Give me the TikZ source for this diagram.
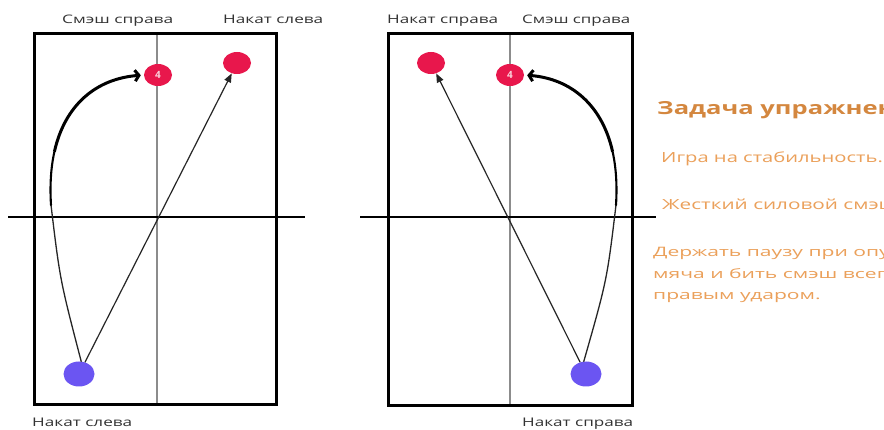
\documentclass[tikz,border=0pt]{standalone}
\usepackage{fontspec}
\usepackage{graphicx}
\setmainfont{Open Sans}
\usetikzlibrary{arrows.meta,shapes.geometric}
\definecolor{ballred}{HTML}{E8174C}
\definecolor{ballblue}{HTML}{6B55F2}
\definecolor{orangetxt}{HTML}{EBA05A}
\definecolor{orangehd}{HTML}{D4873F}
\tikzset{
  frame/.style={line width=3pt},
  midline/.style={line width=1.4pt, draw=black!45},
  netline/.style={line width=2.4pt},
  ball/.style={ellipse, inner sep=0pt, minimum width=28pt, minimum height=22pt},
  redball/.style={ball, fill=ballred},
  blueball/.style={ball, fill=ballblue, minimum width=31pt, minimum height=25pt},
  lbl/.style={anchor=base west, inner sep=0pt, text=black!80},
  otxt/.style={anchor=base west, inner sep=0pt, text=orangetxt},
  thinarrow/.style={line width=1.2pt, draw=black!85, -{Triangle[length=9pt,width=7pt]}},
  thinpart/.style={line width=1.3pt, draw=black!85, line cap=round},
  midpart/.style={line width=2.1pt, line cap=round},
  curvearrow/.style={line width=3pt, shorten >=3pt, -{Straight Barb[length=4pt,width=11pt]}},
}
\newcommand{\balltext}{\fontsize{10}{10}\selectfont\bfseries\textcolor{white!80!ballred}{4}}
\begin{document}
\begin{tikzpicture}[x=1pt,y=-1pt]
\useasboundingbox (0,0) rectangle (884,430);
\clip (0,0) rectangle (884,430);
\fill[white] (0,0) rectangle (884,430);

% ---------- left court ----------
\draw[midline] (157,33.5) -- (157,404.5);
\draw[netline] (8,217) -- (305,217);
\draw[frame] (34.5,33.5) rectangle (276.5,404.5);

\node[redball] (L4) at (158,75) {\balltext};
\node[redball] (LR) at (237,63) {};
\node[blueball] (LB) at (79,374) {};

\coordinate (Lmid) at (51,205);
\coordinate (Ls) at (54.42,151.64);
\draw[thinarrow] (LB) -- (LR);
\draw[thinpart] (LB.80) .. controls (60,280) .. (Lmid);
\draw[midpart] (Lmid) .. controls (49.75,185) and (50.94,167.19) .. (Ls);
\draw[curvearrow] (Ls) .. controls (64.875,105) and (96,78.75) .. (L4.west);

\node[lbl] (lt1) at (62,24) {\resizebox{111pt}{8.5pt}{Смэш справа}};
\node[lbl] (lt2) at (223,24) {\resizebox{100pt}{8.5pt}{Накат слева}};
\node[lbl] (lb1) at (32,426) {\resizebox{100pt}{8.5pt}{Накат слева}};

% ---------- right court ----------
\draw[midline] (510,33.5) -- (510,405.5);
\draw[netline] (360,217) -- (656,217);
\draw[frame] (388,33.5) rectangle (632,405.5);

\node[redball] (R4) at (510,75) {\balltext};
\node[redball] (RR) at (431,63) {};
\node[blueball] (RB) at (586,374) {};

\coordinate (Rmid) at (616,205);
\coordinate (Rs) at (612.58,151.64);
\draw[thinarrow] (RB) -- (RR);
\draw[thinpart] (RB.100) .. controls (607,280) .. (Rmid);
\draw[midpart] (Rmid) .. controls (617.25,185) and (616.06,167.19) .. (Rs);
\draw[curvearrow] (Rs) .. controls (602.125,105) and (571,78.75) .. (R4.east);

\node[lbl] (rt1) at (387,24) {\resizebox{111pt}{8.5pt}{Накат справа}};
\node[lbl] (rt2) at (522,24) {\resizebox{108pt}{8.5pt}{Смэш справа}};
\node[lbl] (rb1) at (522,426) {\resizebox{111pt}{8.5pt}{Накат справа}};

% ---------- task text ----------
\node[otxt, text=orangehd] (t0) at (657,115) {\scalebox{1.42}[1]{\fontsize{18}{18}\selectfont\bfseries Задача упражнения:}};
\node[otxt] (t1) at (661,163) {\scalebox{1.44}[1]{\fontsize{14}{14}\selectfont Игра на стабильность.}};
\node[otxt] (t2) at (662,210) {\scalebox{1.48}[1]{\fontsize{14}{14}\selectfont Жесткий силовой смэш.}};
\node[otxt] (t3) at (653,257) {\scalebox{1.62}[1]{\fontsize{13}{13}\selectfont Держать паузу при опускании}};
\node[otxt] (t4) at (653,279) {\scalebox{1.62}[1]{\fontsize{13}{13}\selectfont мяча и бить смэш всегда}};
\node[otxt] (t5) at (653,300) {\scalebox{1.62}[1]{\fontsize{13}{13}\selectfont правым ударом.}};
\end{tikzpicture}
\end{document}
